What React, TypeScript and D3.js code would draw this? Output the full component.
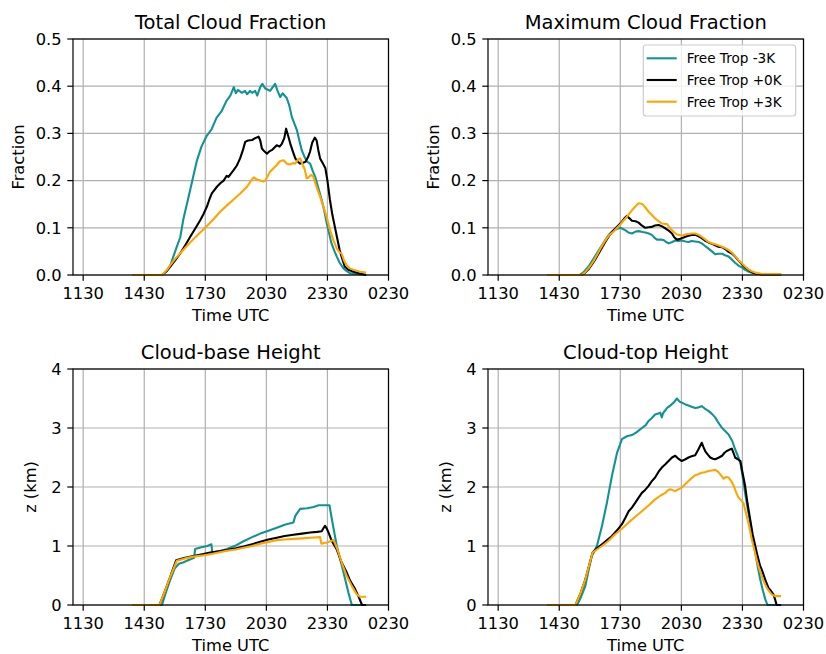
import React from "react";
import * as d3 from "d3";

// Time axis (hours since 00 UTC on day 1; values past 24 fall on the next day)
const TIME_TICKS = [11.5, 14.5, 17.5, 20.5, 23.5, 26.5];
const TIME_LABELS = ["1130", "1430", "1730", "2030", "2330", "0230"];

const SERIES_NAMES = ["Free Trop -3K", "Free Trop +0K", "Free Trop +3K"];
const SERIES_COLORS = ["#129393", "#000000", "#ffa500"];

type Pt = [number, number];

// Total cloud fraction
const tcfCold: Pt[] = [[13.94,0],[15.37,0],[15.6,0.008],[15.78,0.02],[15.93,0.039],[16.1,0.06],[16.27,0.08],[16.42,0.118],[16.68,0.166],[16.91,0.209],[17.09,0.243],[17.32,0.273],[17.56,0.294],[17.8,0.308],[18.05,0.333],[18.3,0.347],[18.54,0.369],[18.73,0.38],[18.9,0.398],[19.0,0.385],[19.1,0.392],[19.3,0.386],[19.45,0.39],[19.55,0.383],[19.7,0.39],[19.8,0.386],[19.95,0.39],[20.05,0.38],[20.2,0.398],[20.3,0.405],[20.45,0.395],[20.55,0.393],[20.68,0.39],[20.85,0.4],[20.93,0.405],[21.05,0.39],[21.18,0.377],[21.3,0.385],[21.5,0.375],[21.62,0.36],[21.75,0.335],[21.88,0.32],[22.0,0.307],[22.12,0.285],[22.24,0.264],[22.38,0.25],[22.5,0.24],[22.65,0.236],[22.78,0.22],[22.9,0.208],[23.05,0.185],[23.22,0.159],[23.35,0.135],[23.47,0.109],[23.6,0.085],[23.7,0.067],[23.85,0.05],[23.96,0.039],[24.1,0.026],[24.29,0.014],[24.45,0.008],[24.6,0.004],[24.9,0.002],[25.4,0]];
const tcfCtrl: Pt[] = [[13.94,0],[15.37,0],[15.6,0.008],[15.78,0.018],[16.0,0.03],[16.27,0.046],[16.5,0.062],[16.76,0.081],[17.0,0.098],[17.25,0.116],[17.42,0.13],[17.58,0.145],[17.7,0.16],[17.82,0.173],[18.07,0.187],[18.25,0.195],[18.4,0.2],[18.55,0.21],[18.64,0.208],[18.89,0.222],[19.05,0.232],[19.21,0.247],[19.35,0.265],[19.46,0.282],[19.6,0.285],[19.8,0.286],[19.95,0.29],[20.12,0.293],[20.2,0.285],[20.28,0.268],[20.4,0.262],[20.53,0.257],[20.65,0.262],[20.78,0.265],[20.9,0.27],[21.01,0.275],[21.15,0.272],[21.26,0.278],[21.38,0.29],[21.47,0.31],[21.57,0.295],[21.67,0.279],[21.8,0.262],[21.92,0.247],[22.05,0.24],[22.16,0.236],[22.31,0.238],[22.42,0.24],[22.55,0.25],[22.65,0.262],[22.75,0.28],[22.88,0.291],[22.97,0.285],[23.05,0.265],[23.14,0.247],[23.28,0.236],[23.4,0.226],[23.5,0.2],[23.62,0.16],[23.74,0.128],[23.86,0.103],[23.98,0.078],[24.1,0.053],[24.22,0.035],[24.35,0.018],[24.53,0.011],[24.78,0.007],[25.1,0.003],[25.4,0]];
const tcfWarm: Pt[] = [[13.94,0],[15.37,0],[15.6,0.01],[15.78,0.021],[16.0,0.033],[16.27,0.046],[16.6,0.062],[16.92,0.076],[17.25,0.09],[17.58,0.104],[17.9,0.118],[18.23,0.134],[18.55,0.147],[18.89,0.16],[19.2,0.172],[19.55,0.187],[19.75,0.2],[19.88,0.207],[20.0,0.203],[20.2,0.2],[20.35,0.198],[20.45,0.2],[20.67,0.218],[20.85,0.226],[21.01,0.233],[21.16,0.241],[21.34,0.243],[21.5,0.236],[21.65,0.234],[21.8,0.237],[21.92,0.236],[22.06,0.245],[22.16,0.247],[22.3,0.232],[22.39,0.223],[22.48,0.205],[22.55,0.206],[22.7,0.212],[22.8,0.209],[22.98,0.185],[23.13,0.167],[23.3,0.145],[23.45,0.125],[23.63,0.095],[23.8,0.073],[23.96,0.056],[24.1,0.048],[24.2,0.045],[24.32,0.03],[24.45,0.02],[24.6,0.014],[24.78,0.011],[25.1,0.007],[25.4,0.005]];

// Maximum cloud fraction
const mcfCold: Pt[] = [[13.94,0],[15.5,0],[15.7,0.006],[15.94,0.018],[16.15,0.032],[16.35,0.046],[16.55,0.06],[16.76,0.074],[16.95,0.086],[17.09,0.092],[17.3,0.097],[17.5,0.1],[17.74,0.095],[17.9,0.09],[18.07,0.088],[18.25,0.092],[18.4,0.093],[18.6,0.091],[18.73,0.09],[18.9,0.088],[19.05,0.085],[19.2,0.078],[19.3,0.075],[19.5,0.075],[19.63,0.074],[19.75,0.07],[19.88,0.067],[20.05,0.07],[20.2,0.073],[20.35,0.072],[20.52,0.073],[20.7,0.071],[20.85,0.07],[21.0,0.072],[21.18,0.071],[21.35,0.07],[21.5,0.067],[21.65,0.062],[21.83,0.056],[22.0,0.05],[22.16,0.044],[22.3,0.045],[22.5,0.045],[22.65,0.042],[22.82,0.039],[23.0,0.032],[23.14,0.026],[23.3,0.02],[23.47,0.016],[23.63,0.011],[23.8,0.007],[24.13,0.003],[24.45,0.002],[25.4,0.002]];
const mcfCtrl: Pt[] = [[13.94,0],[15.6,0],[15.75,0.004],[15.94,0.012],[16.15,0.025],[16.35,0.039],[16.55,0.054],[16.76,0.07],[16.95,0.083],[17.17,0.095],[17.4,0.105],[17.58,0.113],[17.7,0.12],[17.82,0.125],[17.95,0.12],[18.07,0.115],[18.25,0.114],[18.4,0.111],[18.55,0.105],[18.73,0.1],[18.9,0.101],[19.05,0.102],[19.2,0.105],[19.38,0.106],[19.55,0.103],[19.71,0.099],[19.88,0.094],[20.04,0.088],[20.15,0.08],[20.28,0.075],[20.4,0.076],[20.52,0.078],[20.7,0.081],[20.85,0.083],[21.0,0.085],[21.18,0.085],[21.35,0.082],[21.5,0.078],[21.65,0.073],[21.83,0.069],[22.0,0.066],[22.16,0.063],[22.3,0.06],[22.5,0.059],[22.65,0.055],[22.82,0.049],[23.0,0.045],[23.14,0.039],[23.3,0.031],[23.47,0.023],[23.63,0.016],[23.8,0.011],[23.96,0.006],[24.13,0.003],[24.45,0.001],[25.4,0.001]];
const mcfWarm: Pt[] = [[13.94,0],[15.6,0],[15.75,0.005],[15.94,0.014],[16.15,0.027],[16.35,0.042],[16.55,0.058],[16.76,0.073],[16.95,0.084],[17.17,0.092],[17.35,0.1],[17.5,0.107],[17.65,0.115],[17.82,0.123],[18.0,0.133],[18.15,0.141],[18.3,0.148],[18.4,0.152],[18.55,0.151],[18.64,0.148],[18.75,0.142],[18.89,0.134],[19.05,0.127],[19.21,0.12],[19.38,0.114],[19.55,0.109],[19.7,0.108],[19.8,0.108],[19.92,0.1],[20.04,0.095],[20.15,0.09],[20.28,0.086],[20.4,0.085],[20.52,0.083],[20.7,0.086],[20.85,0.087],[21.0,0.088],[21.18,0.088],[21.35,0.085],[21.5,0.081],[21.65,0.076],[21.83,0.07],[22.0,0.067],[22.16,0.065],[22.3,0.063],[22.5,0.06],[22.65,0.057],[22.82,0.053],[23.0,0.047],[23.14,0.04],[23.3,0.032],[23.47,0.025],[23.63,0.018],[23.8,0.012],[23.96,0.008],[24.13,0.005],[24.45,0.002],[25.4,0.002]];

// Cloud-base height (km)
const cbhCold: Pt[] = [[13.94,0],[15.37,0],[15.55,0.2],[15.78,0.43],[16.0,0.62],[16.2,0.7],[16.4,0.72],[16.6,0.75],[16.8,0.78],[16.95,0.8],[17.0,0.95],[17.3,0.98],[17.6,1.0],[17.8,1.03],[17.84,0.89],[18.2,0.91],[18.56,0.95],[19.0,1.01],[19.38,1.08],[19.8,1.15],[20.2,1.21],[20.6,1.26],[21.01,1.31],[21.4,1.36],[21.83,1.4],[21.92,1.51],[22.16,1.63],[22.5,1.64],[22.82,1.66],[23.07,1.69],[23.6,1.69],[23.72,1.45],[23.96,1.0],[24.29,0.55],[24.53,0.21],[24.7,0],[25.2,0]];
const cbhCtrl: Pt[] = [[13.94,0],[15.25,0],[15.5,0.22],[15.75,0.45],[16.07,0.76],[16.5,0.8],[16.92,0.83],[17.35,0.86],[17.74,0.89],[18.15,0.91],[18.56,0.93],[19.0,0.96],[19.38,0.99],[19.8,1.03],[20.2,1.07],[20.6,1.11],[21.01,1.14],[21.4,1.17],[21.83,1.19],[22.25,1.21],[22.65,1.23],[23.0,1.24],[23.22,1.25],[23.3,1.3],[23.38,1.34],[23.46,1.3],[23.55,1.23],[23.72,1.08],[23.96,0.94],[24.2,0.72],[24.45,0.55],[24.62,0.41],[24.86,0.27],[25.02,0.15],[25.2,0],[25.4,0]];
const cbhWarm: Pt[] = [[13.94,0],[15.25,0],[15.5,0.22],[15.75,0.45],[16.1,0.75],[16.5,0.79],[16.92,0.82],[17.35,0.84],[17.74,0.86],[18.15,0.89],[18.56,0.92],[19.0,0.94],[19.38,0.97],[19.8,1.0],[20.2,1.04],[20.6,1.07],[21.01,1.1],[21.4,1.11],[21.83,1.12],[22.25,1.13],[22.65,1.14],[23.14,1.15],[23.2,1.04],[23.47,1.06],[23.8,1.1],[23.96,0.97],[24.2,0.72],[24.45,0.49],[24.7,0.32],[24.94,0.18],[25.1,0.14],[25.4,0.14]];

// Cloud-top height (km)
const cthCold: Pt[] = [[13.94,0],[15.37,0],[15.55,0.12],[15.78,0.32],[15.95,0.6],[16.1,0.83],[16.35,1.0],[16.6,1.34],[16.84,1.73],[17.09,2.19],[17.34,2.58],[17.58,2.81],[17.82,2.86],[18.07,2.88],[18.31,2.93],[18.56,3.0],[18.75,3.05],[18.89,3.12],[19.05,3.17],[19.21,3.23],[19.4,3.25],[19.46,3.26],[19.54,3.18],[19.6,3.25],[19.8,3.34],[19.95,3.38],[20.12,3.43],[20.28,3.5],[20.4,3.45],[20.52,3.43],[20.7,3.4],[20.85,3.38],[21.0,3.36],[21.18,3.34],[21.35,3.35],[21.5,3.37],[21.65,3.33],[21.83,3.29],[22.0,3.24],[22.16,3.18],[22.3,3.1],[22.5,3.0],[22.65,2.95],[22.82,2.89],[23.0,2.78],[23.14,2.64],[23.27,2.53],[23.4,2.41],[23.5,2.2],[23.63,1.9],[23.75,1.65],[23.88,1.4],[24.0,1.15],[24.13,0.89],[24.25,0.65],[24.37,0.44],[24.5,0.25],[24.62,0.1],[24.73,0],[25.2,0]];
const cthCtrl: Pt[] = [[13.94,0],[15.3,0],[15.55,0.2],[15.78,0.43],[16.14,0.89],[16.35,0.96],[16.6,1.03],[16.85,1.1],[17.09,1.17],[17.35,1.27],[17.58,1.37],[17.75,1.48],[17.91,1.59],[18.07,1.65],[18.23,1.73],[18.4,1.82],[18.56,1.9],[18.72,1.95],[18.89,2.02],[19.05,2.1],[19.21,2.16],[19.38,2.26],[19.54,2.33],[19.7,2.38],[19.87,2.44],[20.04,2.5],[20.2,2.53],[20.35,2.48],[20.52,2.44],[20.7,2.47],[20.85,2.5],[21.0,2.52],[21.18,2.54],[21.34,2.64],[21.5,2.75],[21.58,2.68],[21.67,2.61],[21.8,2.55],[21.92,2.5],[22.05,2.48],[22.16,2.47],[22.35,2.5],[22.5,2.53],[22.62,2.58],[22.73,2.61],[22.85,2.63],[22.98,2.65],[23.06,2.58],[23.14,2.5],[23.28,2.47],[23.4,2.44],[23.5,2.25],[23.63,2.02],[23.75,1.72],[23.88,1.45],[24.0,1.2],[24.13,1.0],[24.25,0.82],[24.37,0.66],[24.45,0.6],[24.53,0.52],[24.65,0.4],[24.78,0.29],[24.9,0.24],[25.02,0.18],[25.1,0.1],[25.18,0],[25.4,0]];
const cthWarm: Pt[] = [[13.94,0],[15.3,0],[15.55,0.2],[15.78,0.43],[16.14,0.89],[16.6,1.0],[16.9,1.08],[17.25,1.2],[17.6,1.3],[17.91,1.4],[18.25,1.5],[18.56,1.59],[18.9,1.69],[19.21,1.79],[19.5,1.86],[19.71,1.9],[19.85,1.95],[19.96,1.96],[20.2,1.93],[20.35,1.96],[20.52,1.99],[20.7,2.05],[20.85,2.1],[21.0,2.15],[21.18,2.2],[21.35,2.22],[21.5,2.24],[21.65,2.25],[21.83,2.27],[22.0,2.28],[22.16,2.29],[22.3,2.26],[22.42,2.21],[22.58,2.14],[22.7,2.17],[22.82,2.16],[22.95,2.1],[23.07,2.02],[23.2,1.9],[23.31,1.82],[23.45,1.77],[23.55,1.73],[23.71,1.51],[23.85,1.3],[23.96,1.11],[24.08,0.94],[24.2,0.77],[24.32,0.62],[24.45,0.49],[24.57,0.38],[24.7,0.29],[24.82,0.23],[24.94,0.18],[25.1,0.15],[25.4,0.15]];

const FRACTION_TICKS = [0, 0.1, 0.2, 0.3, 0.4, 0.5];
const HEIGHT_TICKS = [0, 1, 2, 3, 4];

const FONT = "'DejaVu Sans', sans-serif";
const TICK_FS = 16.3;
const TITLE_FS = 19.5;
const LEGEND_FS = 13.6;
const TICK_LEN = 5.7;
const PAD = 5.7;

interface PanelProps {
  left: number;
  top: number;
  title: string;
  ylabel: string;
  ylabelX: number;
  yMax: number;
  yTicks: number[];
  yFormat: (v: number) => string;
  series: Pt[][];
  showLegend?: boolean;
}

const W = 315.5;
const H = 236;

function Panel({ left, top, title, ylabel, ylabelX, yMax, yTicks, yFormat, series, showLegend }: PanelProps) {
  const x = d3.scaleLinear().domain([11, 26.5]).range([left, left + W]);
  const y = d3.scaleLinear().domain([0, yMax]).range([top + H, top]);
  const line = d3.line<Pt>().x((d) => x(d[0])).y((d) => y(d[1]));
  const clipId = `clip-${left}-${top}`;
  const cx = left + W / 2;

  return (
    <g>
      <defs>
        <clipPath id={clipId}>
          <rect x={left} y={top - 2} width={W} height={H + 4} />
        </clipPath>
      </defs>
      {/* grid */}
      {TIME_TICKS.map((t) => (
        <line key={"gx" + t} x1={x(t)} x2={x(t)} y1={top} y2={top + H} stroke="#b0b0b0" strokeWidth={1.2} />
      ))}
      {yTicks.map((v) => (
        <line key={"gy" + v} x1={left} x2={left + W} y1={y(v)} y2={y(v)} stroke="#b0b0b0" strokeWidth={1.2} />
      ))}
      {/* series */}
      <g clipPath={`url(#${clipId})`}>
        {series.map((s, i) => (
          <path key={i} d={line(s) ?? ""} fill="none" stroke={SERIES_COLORS[i]} strokeWidth={2.1} strokeLinejoin="round" />
        ))}
      </g>
      {/* frame */}
      <rect x={left} y={top} width={W} height={H} fill="none" stroke="#000" strokeWidth={1.2} />
      {/* x ticks */}
      {TIME_TICKS.map((t, i) => (
        <g key={"xt" + t}>
          <line x1={x(t)} x2={x(t)} y1={top + H} y2={top + H + TICK_LEN} stroke="#000" strokeWidth={1.2} />
          <text x={x(t)} y={top + H + TICK_LEN + PAD + TICK_FS * 0.76} textAnchor="middle" fontSize={TICK_FS} fontFamily={FONT} fill="#000">
            {TIME_LABELS[i]}
          </text>
        </g>
      ))}
      {/* y ticks */}
      {yTicks.map((v) => (
        <g key={"yt" + v}>
          <line x1={left - TICK_LEN} x2={left} y1={y(v)} y2={y(v)} stroke="#000" strokeWidth={1.2} />
          <text x={left - TICK_LEN - PAD} y={y(v) + TICK_FS * 0.36} textAnchor="end" fontSize={TICK_FS} fontFamily={FONT} fill="#000">
            {yFormat(v)}
          </text>
        </g>
      ))}
      {/* labels */}
      <text x={cx} y={top + H + 46} textAnchor="middle" fontSize={TICK_FS} fontFamily={FONT} fill="#000">
        Time UTC
      </text>
      <text transform={`translate(${ylabelX},${top + H / 2}) rotate(-90)`} textAnchor="middle" fontSize={TICK_FS} fontFamily={FONT} fill="#000">
        {ylabel}
      </text>
      <text x={cx} y={top - 10} textAnchor="middle" fontSize={TITLE_FS} fontFamily={FONT} fill="#000">
        {title}
      </text>
      {showLegend && (
        <g>
          <rect x={left + W - 160.2} y={top + 6} width={152.4} height={71} rx={3} fill="#fff" fillOpacity={0.8} stroke="#cccccc" strokeWidth={1.2} />
          {SERIES_NAMES.map((name, i) => {
            const ly = top + 19.3 + i * 21.7;
            return (
              <g key={name}>
                <line x1={left + W - 156.8} x2={left + W - 126.8} y1={ly} y2={ly} stroke={SERIES_COLORS[i]} strokeWidth={2.1} />
                <text x={left + W - 116.8} y={ly + LEGEND_FS * 0.36} fontSize={LEGEND_FS} fontFamily={FONT} fill="#000">
                  {name}
                </text>
              </g>
            );
          })}
        </g>
      )}
    </g>
  );
}

export default function App() {
  const f1 = d3.format(".1f");
  const f0 = d3.format("d");
  return (
    <svg width={826} height={654} style={{ position: "absolute", left: 0, top: 0, background: "#fff" }}>
      <rect width={826} height={654} fill="#fff" />
      <Panel left={73} top={39} title="Total Cloud Fraction" ylabel="Fraction" ylabelX={24} yMax={0.5} yTicks={FRACTION_TICKS} yFormat={f1} series={[tcfCold, tcfCtrl, tcfWarm]} />
      <Panel left={488} top={39} title="Maximum Cloud Fraction" ylabel="Fraction" ylabelX={439} yMax={0.5} yTicks={FRACTION_TICKS} yFormat={f1} series={[mcfCold, mcfCtrl, mcfWarm]} showLegend />
      <Panel left={73} top={369} title="Cloud-base Height" ylabel="z (km)" ylabelX={36} yMax={4} yTicks={HEIGHT_TICKS} yFormat={f0} series={[cbhCold, cbhCtrl, cbhWarm]} />
      <Panel left={488} top={369} title="Cloud-top Height" ylabel="z (km)" ylabelX={451} yMax={4} yTicks={HEIGHT_TICKS} yFormat={f0} series={[cthCold, cthCtrl, cthWarm]} />
    </svg>
  );
}
